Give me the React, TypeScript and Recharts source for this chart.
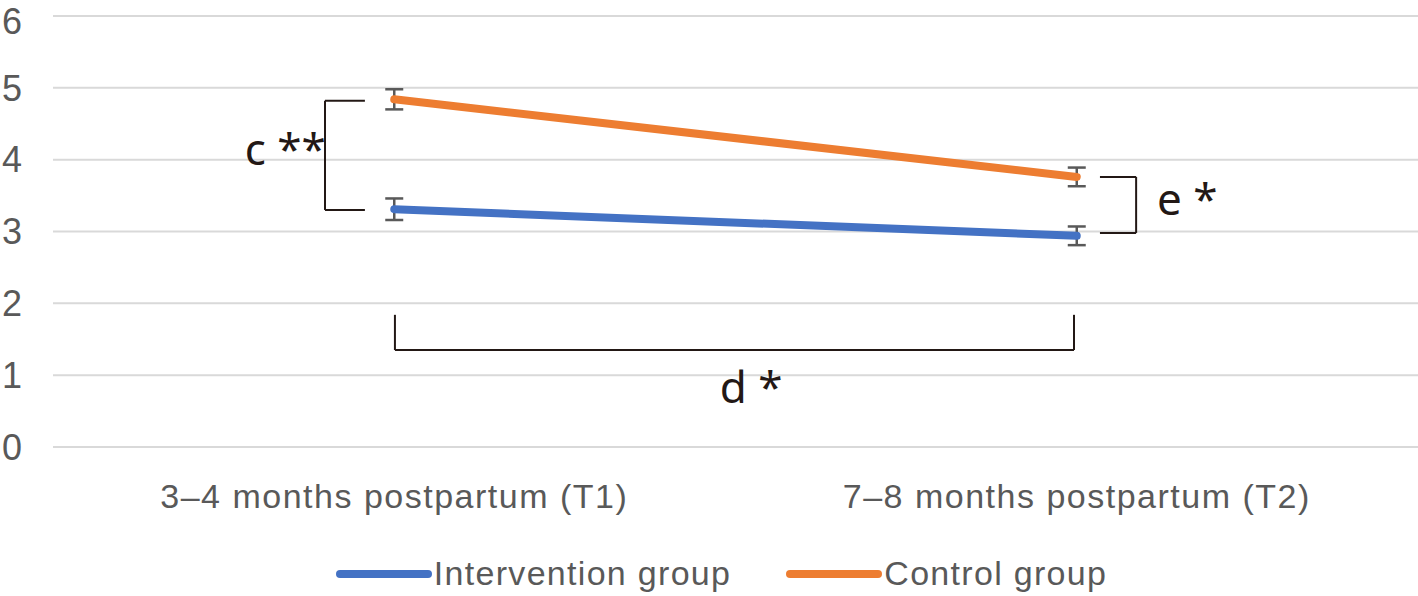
import {
  LineChart,
  Line,
  XAxis,
  YAxis,
  CartesianGrid,
  ErrorBar,
  Legend,
  ReferenceLine,
  ReferenceDot,
} from "recharts";

const categories = ["3–4 months postpartum (T1)", "7–8 months postpartum (T2)"];
const categoryX = [0.5, 1.5];
const intervention = [3.31, 2.94];
const interventionErr = [0.15, 0.13];
const control = [4.84, 3.76];
const controlErr = [0.14, 0.13];
const yTicks = [0, 1, 2, 3, 4, 5, 6];

const BLUE = "#4472c4";
const ORANGE = "#ed7d31";
const GRAY_TEXT = "#595959";
const INK = "#231815";

const data = categories.map((name, i) => ({
  x: categoryX[i],
  name,
  intervention: intervention[i],
  interventionErr: interventionErr[i],
  control: control[i],
  controlErr: controlErr[i],
}));

// significance brackets, in data coordinates
const brackets: { x: number; y: number }[][] = [
  // c: T1 between groups
  [{ x: 0.457, y: 4.82 }, { x: 0.3985, y: 4.82 }],
  [{ x: 0.3985, y: 4.82 }, { x: 0.3985, y: 3.3 }],
  [{ x: 0.3985, y: 3.3 }, { x: 0.457, y: 3.3 }],
  // e: T2 between groups
  [{ x: 1.534, y: 3.76 }, { x: 1.587, y: 3.76 }],
  [{ x: 1.587, y: 3.76 }, { x: 1.587, y: 2.98 }],
  [{ x: 1.587, y: 2.98 }, { x: 1.534, y: 2.98 }],
  // d: T1 vs T2
  [{ x: 0.501, y: 1.84 }, { x: 0.501, y: 1.35 }],
  [{ x: 0.501, y: 1.35 }, { x: 1.496, y: 1.35 }],
  [{ x: 1.496, y: 1.35 }, { x: 1.496, y: 1.84 }],
];

const bracketLabels = [
  { text: "c **", x: 0.281, y: 3.926 },
  { text: "e *", x: 1.6176, y: 3.23 },
  { text: "d *", x: 0.977, y: 0.613 },
];

const legendItems = [
  { label: "Intervention group", color: BLUE },
  { label: "Control group", color: ORANGE },
];

function LegendContent() {
  return (
    <div
      style={{
        display: "flex",
        justifyContent: "center",
        alignItems: "center",
        gap: 55,
        height: 45,
        paddingLeft: 25,
        fontFamily: "'Liberation Sans', Arial, sans-serif",
        fontSize: 34,
        letterSpacing: 1.3,
        color: GRAY_TEXT,
      }}
    >
      {legendItems.map((it) => (
        <div key={it.label} style={{ display: "flex", alignItems: "center" }}>
          <svg width={96} height={12} style={{ marginRight: 2 }}>
            <line x1={4} y1={6} x2={92} y2={6} stroke={it.color} strokeWidth={8} strokeLinecap="round" />
          </svg>
          <span>{it.label}</span>
        </div>
      ))}
    </div>
  );
}

export default function App() {
  return (
    <div style={{ position: "absolute", left: 0, top: 0, background: "#fff" }}>
      <LineChart
        width={1418}
        height={596}
        data={data}
        margin={{ top: 16, right: 0, bottom: 0, left: 0 }}
      >
        <CartesianGrid vertical={false} stroke="#d9d9d9" strokeWidth={2} />
        <XAxis
          dataKey="x"
          type="number"
          domain={[0, 2]}
          ticks={categoryX}
          tickFormatter={(v: number) => categories[categoryX.indexOf(v)] ?? ""}
          axisLine={false}
          tickLine={false}
          tickSize={0}
          tickMargin={37}
          height={104}
          tick={{
            fill: GRAY_TEXT,
            fontSize: 34,
            fontFamily: "'Liberation Sans', Arial, sans-serif",
            letterSpacing: 1.5,
          }}
        />
        <YAxis
          domain={[0, 6]}
          ticks={yTicks}
          axisLine={false}
          tickLine={false}
          tickSize={0}
          tickMargin={31}
          width={53}
          tick={{
            fill: GRAY_TEXT,
            fontSize: 36,
            fontFamily: "'Liberation Sans', Arial, sans-serif",
          }}
        />
        <Legend verticalAlign="bottom" height={45} content={<LegendContent />} />
        <Line
          dataKey="intervention"
          stroke={BLUE}
          strokeWidth={8}
          strokeLinecap="round"
          dot={false}
          activeDot={false}
          isAnimationActive={false}
        >
          <ErrorBar dataKey="interventionErr" direction="y" width={9} stroke={GRAY_TEXT} strokeWidth={2.5} />
        </Line>
        <Line
          dataKey="control"
          stroke={ORANGE}
          strokeWidth={8}
          strokeLinecap="round"
          dot={false}
          activeDot={false}
          isAnimationActive={false}
        >
          <ErrorBar dataKey="controlErr" direction="y" width={9} stroke={GRAY_TEXT} strokeWidth={2.5} />
        </Line>
        {brackets.map((seg, i) => (
          <ReferenceLine key={i} segment={seg} stroke={INK} strokeWidth={2} ifOverflow="visible" />
        ))}
        {bracketLabels.map((b) => (
          <ReferenceDot
            key={b.text}
            x={b.x}
            y={b.y}
            r={0}
            ifOverflow="visible"
            shape={(p: { cx?: number; cy?: number }) => (
              <text
                x={p.cx}
                y={p.cy}
                fill={INK}
                fontSize={44}
                fontFamily="'Noto Sans', sans-serif"
              >
                {b.text}
              </text>
            )}
          />
        ))}
      </LineChart>
    </div>
  );
}
